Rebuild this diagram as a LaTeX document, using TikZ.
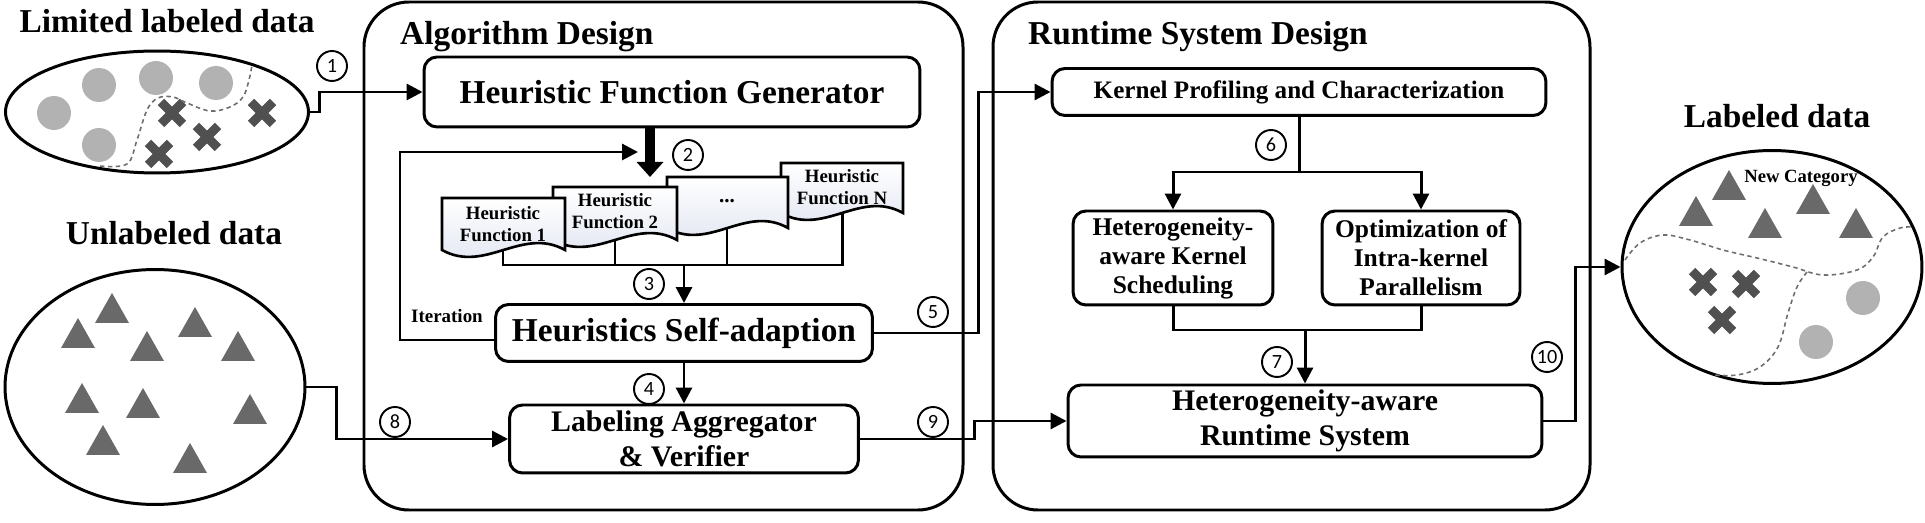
\documentclass[tikz,border=0pt]{standalone}
\usepackage{fontspec}
\setmainfont{Liberation Serif}
\newfontfamily\numfont{Carlito}
\usetikzlibrary{arrows.meta}
\usetikzlibrary{shapes.geometric}
\usetikzlibrary{calc}

\definecolor{dotgray}{RGB}{178,178,178}
\definecolor{markgray}{RGB}{80,80,80}
\definecolor{trigray}{RGB}{105,105,105}
\definecolor{curvegray}{RGB}{110,110,110}
\definecolor{docblue}{RGB}{222,227,240}

% paper sheet with a wavy lower edge: x1, x2, top, bottom
\newcommand{\hdoc}[4]{%
  \path[docline, top color=white, bottom color=docblue]
    (#1,#3) -- (#2,#3) -- (#2,#4)
    .. controls ({#1+0.65*(#2-#1)},{#4-24}) and ({#1+0.35*(#2-#1)},{#4+24}) .. (#1,#4)
    -- cycle;}

\begin{document}
\begin{tikzpicture}[x=0.02cm, y=-0.02cm,
    box/.style={draw, line width=1.7pt, rounded corners=0.26cm, align=center, inner sep=0pt},
    panel/.style={draw, line width=1.7pt, rounded corners=0.9cm},
    data/.style={ellipse, draw, line width=1.7pt, inner sep=0pt},
    title/.style={anchor=base, font=\bfseries\fontsize{19}{21}\selectfont},
    numc/.style={circle, draw, line width=1.1pt, minimum size=0.6cm, inner sep=0pt, font=\numfont\fontsize{11.5}{12}\selectfont},
    link/.style={line width=1.7pt},
    arr/.style={line width=1.7pt, -{Triangle[length=0.32cm, width=0.32cm]}},
    bigarr/.style={line width=0.2cm, -{Triangle[length=0.3cm, width=0.52cm]}},
    docline/.style={draw, line width=1.5pt},
    xmark/.style={draw=markgray, line width=0.18cm},
    border/.style={dashed, draw=curvegray, line width=0.9pt, dash pattern=on 2.5pt off 2pt}]

  \useasboundingbox (0,0) rectangle (1925,523);

  % the two design panels
  \draw[panel] (364,2) rectangle (963,510);
  \draw[panel] (993,2) rectangle (1590,510);
  \node[anchor=base west, font=\bfseries\fontsize{19}{21}\selectfont] (algt) at (394,45) {Algorithm Design};
  \node[anchor=base west, font=\bfseries\fontsize{19}{21}\selectfont] (rtst) at (1022,45) {Runtime System Design};

  % data sets
  \node[title] (limt) at (167,33) {Limited labeled data};
  \node[title] (unlt) at (174,245) {Unlabeled data};
  \node[title] (labt) at (1777,128) {Labeled data};

  \node[data, minimum width=6.06cm, minimum height=2.44cm] (lim) at (157,112) {};
  \node[data, minimum width=6cm, minimum height=4.7cm] (unl) at (155,387) {};
  \node[data, minimum width=6cm, minimum height=4.66cm] (lab) at (1772,267) {};

  \foreach \x/\y in {54/113, 99/85, 156/78, 216/83, 99/145, 1863/298, 1816/342} {
    \fill[dotgray] (\x,\y) circle (0.34cm);
  }
  \foreach \x/\y in {172/113, 207/137, 159/154, 262/113, 1703/282, 1746/284, 1722/320} {
    \draw[xmark] (\x-11,\y-11) -- (\x+11,\y+11) (\x-11,\y+11) -- (\x+11,\y-11);
  }
  \foreach \x/\y in {112/323, 78/348, 147/361, 195/337, 238/361, 82/413, 143/418, 250/424, 103/455, 190/473,
                     1729/200, 1696/226, 1813/214, 1765/238, 1856/238} {
    \fill[trigray] (\x-17,\y) -- (\x+17,\y) -- (\x,\y-30) -- cycle;
  }

  \draw[border] plot[smooth, tension=0.6] coordinates {(100,166) (127,164) (137,140) (147,110) (158,98) (173,97)
    (187,103) (210,111) (230,107) (243,97) (249,80) (252,65)};
  \draw[border] plot[smooth, tension=0.6] coordinates {(1625,260) (1640,243) (1663,235) (1690,240) (1723,250)
    (1757,258) (1793,267) (1823,275) (1857,270) (1873,257) (1883,237) (1900,228) (1913,227)};
  \draw[border] plot[smooth, tension=0.6] coordinates {(1807,272) (1797,287) (1788,313) (1778,347) (1760,367)
    (1737,375) (1713,375)};
  \node[font=\bfseries\fontsize{10.6}{12}\selectfont, anchor=base] (newc) at (1801,183) {New Category};

  % algorithm design boxes
  \node[box, minimum width=9.92cm, minimum height=1.4cm, font=\bfseries\fontsize{19}{21}\selectfont] (hfg) at (672,92) {Heuristic Function Generator};
  \node[box, minimum width=7.54cm, minimum height=1.14cm, font=\bfseries\fontsize{19}{21}\selectfont] (hsa) at (684,333) {Heuristics Self-adaption};
  \node[box, minimum width=6.98cm, minimum height=1.36cm, font=\bfseries\fontsize{17}{20}\selectfont] (lav) at (684,439) {Labeling Aggregator\\\& Verifier};

  \coordinate (d1) at (503,250);
  \coordinate (d2) at (615,240);
  \coordinate (d3) at (727,228);
  \coordinate (dN) at (842,214);
  \coordinate (c3) at (684,265);
  \draw[link] (d1) |- (dN |- c3) -- (dN);
  \draw[link] (d2) -- (d2 |- c3);
  \draw[link] (d3) -- (d3 |- c3);

  \hdoc{781}{903}{163}{213}
  \hdoc{667}{788}{177}{228}
  \hdoc{553}{677}{187}{240}
  \hdoc{442}{565}{198}{250}
  \node[align=center, font=\bfseries\fontsize{10.7}{12.5}\selectfont] (hfN) at (842,187) {Heuristic\\Function N};
  \node[font=\bfseries\fontsize{12}{12}\selectfont] (hf3) at (727,201) {...};
  \node[align=center, font=\bfseries\fontsize{10.7}{12.5}\selectfont] (hf2) at (615,211) {Heuristic\\Function 2};
  \node[align=center, font=\bfseries\fontsize{10.7}{12.5}\selectfont] (hf1) at (503,224) {Heuristic\\Function 1};

  \coordinate (a2) at (650,177);
  \draw[bigarr] (a2 |- hfg.south) -- (a2);
  \draw[arr] (c3) -- (hsa.north);
  \draw[arr] (hsa.south) -- (lav.north);

  \coordinate (itc) at (400,152);
  \coordinate (it) at (638,152);
  \draw[arr] ([yshift=-0.14cm]hsa.west) -| (itc) -- (it);
  \node[anchor=base east, font=\bfseries\fontsize{10.8}{12}\selectfont] (iter) at (489,323) {Iteration};

  % runtime system boxes
  \node[box, minimum width=9.88cm, minimum height=0.94cm, font=\bfseries\fontsize{14.3}{16}\selectfont] (kpc) at (1299,92) {Kernel Profiling and Characterization};
  \node[box, minimum width=4cm, minimum height=1.88cm, font=\bfseries\fontsize{14.5}{16.5}\selectfont] (hks) at (1173,258) {Heterogeneity-\\aware Kernel\\Scheduling};
  \node[box, minimum width=3.96cm, minimum height=1.88cm, font=\bfseries\fontsize{14.5}{16.5}\selectfont] (oip) at (1421,258) {Optimization of\\Intra-kernel\\Parallelism};
  \node[box, minimum width=9.48cm, minimum height=1.44cm, font=\bfseries\fontsize{17}{20}\selectfont] (rts) at (1305,421) {Heterogeneity-aware\\Runtime System};

  \coordinate (m6) at (1299,172);
  \draw[arr] (kpc.south) -- (m6) -| (hks.north);
  \draw[arr] (m6) -| (oip.north);
  \coordinate (m7) at (1305,330);
  \draw[link] (hks.south) |- (m7) -| (oip.south);
  \draw[arr] (m7) -- (rts.north);

  % connectors between the parts
  \draw[arr] (lim.east) -- ++(10,0) |- (hfg.west);
  \draw[arr] (unl.east) -- ++(30,0) |- (lav.west);
  \draw[arr] (hsa.east) -- ++(105,0) |- (kpc.west);
  \draw[arr] (lav.east) -- ++(115,0) |- (rts.west);
  \draw[arr] (rts.east) -- ++(32,0) |- (lab.west);

  % step numbers
  \node[numc] (n1) at (332,66) {1};
  \node[numc] (n2) at (688,155) {2};
  \node[numc] (n3) at (649,284) {3};
  \node[numc] (n4) at (649,389) {4};
  \node[numc] (n5) at (933,312) {5};
  \node[numc] (n6) at (1271,145) {6};
  \node[numc] (n7) at (1277,362) {7};
  \node[numc] (n8) at (395,422) {8};
  \node[numc] (n9) at (933,422) {9};
  \node[numc] (n10) at (1547,357) {10};
\end{tikzpicture}
\end{document}
